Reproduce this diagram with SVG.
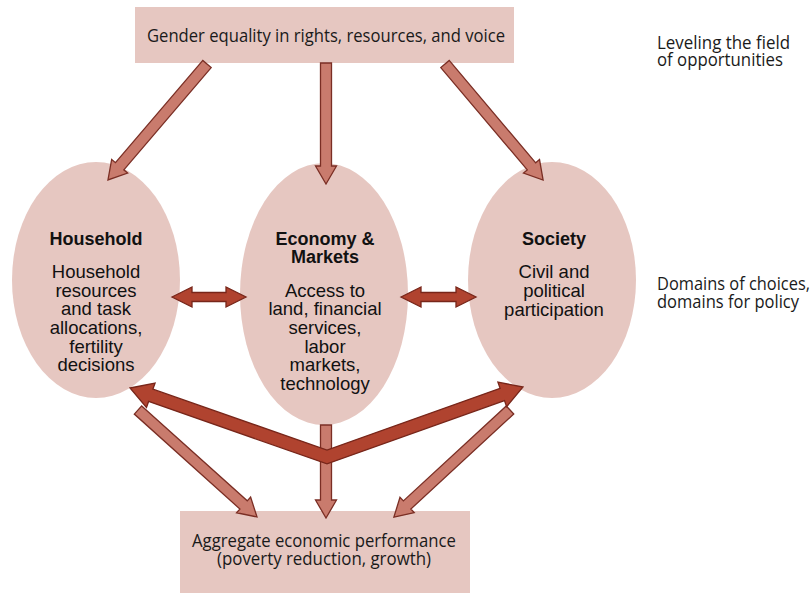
<svg xmlns="http://www.w3.org/2000/svg" width="812" height="595" viewBox="0 0 812 595">
<style>
.box{fill:#E6C7C1}
.lt{fill:#C97B6D;stroke:#7A2E24;stroke-width:1.3;stroke-linejoin:miter}
.dk{fill:#B0432F;stroke:#77261A;stroke-width:1.3;stroke-linejoin:miter}
.m{font-family:"Open Sans","Noto Sans",sans-serif;font-size:17.5px;fill:#1a1a1a}
.c{text-anchor:middle}
.a{font-family:"Liberation Sans",Arial,sans-serif;font-size:18.5px;fill:#111;text-anchor:middle}
.b{font-family:"Liberation Sans",Arial,sans-serif;font-size:18px;font-weight:bold;fill:#111;text-anchor:middle}
</style>
<rect width="812" height="595" fill="#fff"/>
<g id="top">
<rect class="box" x="135" y="7" width="379" height="56"/>
<text class="m" x="147" y="42" textLength="358" lengthAdjust="spacingAndGlyphs">Gender equality in rights, resources, and voice</text>
</g>
<g id="household">
<ellipse class="box" cx="96" cy="280" rx="84" ry="118"/>
<text class="b" x="96" y="245">Household</text>
<text class="a" x="96" y="278">Household</text>
<text class="a" x="96" y="296.7">resources</text>
<text class="a" x="96" y="315.3">and task</text>
<text class="a" x="96" y="334">allocations,</text>
<text class="a" x="96" y="352.7">fertility</text>
<text class="a" x="96" y="371.3">decisions</text>
</g>
<g id="economy">
<ellipse class="box" cx="324" cy="294" rx="84" ry="131"/>
<text class="b" x="325" y="245">Economy &amp;</text>
<text class="b" x="325" y="263.3">Markets</text>
<text class="a" x="325" y="296.7">Access to</text>
<text class="a" x="325" y="315.3">land, financial</text>
<text class="a" x="325" y="334">services,</text>
<text class="a" x="325" y="352.7">labor</text>
<text class="a" x="325" y="371.3">markets,</text>
<text class="a" x="325" y="390">technology</text>
</g>
<g id="society">
<ellipse class="box" cx="552" cy="280" rx="84" ry="118"/>
<text class="b" x="554" y="245">Society</text>
<text class="a" x="554" y="278.3">Civil and</text>
<text class="a" x="554" y="297">political</text>
<text class="a" x="554" y="315.6">participation</text>
</g>
<g id="aggregate">
<rect class="box" x="180" y="511" width="290" height="82"/>
<text class="m c" x="324" y="547" textLength="264" lengthAdjust="spacingAndGlyphs">Aggregate economic performance</text>
<text class="m c" x="324" y="565" textLength="214" lengthAdjust="spacingAndGlyphs">(poverty reduction, growth)</text>
</g>
<g id="label-top">
<text class="m" x="657" y="49" textLength="133" lengthAdjust="spacingAndGlyphs">Leveling the field</text>
<text class="m" x="657" y="66" textLength="126" lengthAdjust="spacingAndGlyphs">of opportunities</text>
</g>
<g id="label-mid">
<text class="m" x="657" y="290" textLength="153" lengthAdjust="spacingAndGlyphs">Domains of choices,</text>
<text class="m" x="657" y="308" textLength="142" lengthAdjust="spacingAndGlyphs">domains for policy</text>
</g>
<g id="connectors">
<path class="lt" transform="translate(207,64) rotate(130.5)" d="M0,-5.5H134.5V-10.5L152.5,0L134.5,10.5V5.5H0Z"/>
<path class="lt" transform="translate(326,63) rotate(90)" d="M0,-5.5H103V-10.5L121,0L103,10.5V5.5H0Z"/>
<path class="lt" transform="translate(445,64) rotate(49.8)" d="M0,-5.5H134V-10.5L152,0L134,10.5V5.5H0Z"/>
<path class="dk" d="M172,297L192,287V292.5H226V287L246,297L226,307V301.5H192V307Z"/>
<path class="dk" d="M401,297L421,287V292.5H456V287L476,297L456,307V301.5H421V307Z"/>
<path class="lt" transform="translate(138,410) rotate(41.96)" d="M0,-5.5H142V-10.5L160,0L142,10.5V5.5H0Z"/>
<path class="lt" transform="translate(510,410) rotate(137.3)" d="M0,-5.5H140V-10.5L158,0L140,10.5V5.5H0Z"/>
<path class="lt" transform="translate(326,425) rotate(90)" d="M0,-5.5H75V-10.5L93,0L75,10.5V5.5H0Z"/>
<path class="dk" d="M130,388L155.07,383L152.92,389.13L327,450.1L500.09,388.28L497.91,382.16L523,387L506.65,406.64L504.47,400.52L327,463.9L148.62,401.41L146.47,407.54Z"/>
</g>
</svg>
